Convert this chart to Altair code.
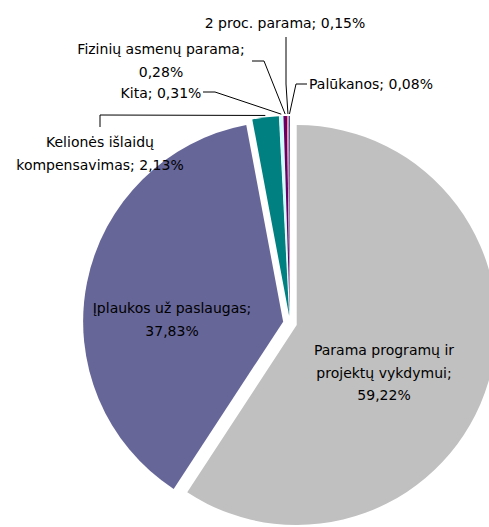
import altair as alt
import pandas as pd
import numpy as np

# ---- data ----
categories = [
    "Parama programų ir projektų vykdymui",
    "Įplaukos už paslaugas",
    "Kelionės išlaidų kompensavimas",
    "Kita",
    "Fizinių asmenų parama",
    "2 proc. parama",
    "Palūkanos",
]
values = [59.22, 37.83, 2.13, 0.31, 0.28, 0.15, 0.08]
colors = ["#C0C0C0", "#666699", "#008080", "#CCFFFF", "#660066", "#FF8080", "#0066CC"]

# ---- layout (positions / styles) ----
W, H = 489, 527
CX, CY, R, EXPLODE = 290, 323, 200, 7
FONT = "DejaVu Sans"
FS = 14
LH = 22.5

# how each label is wrapped
label_templates = [
    "Parama programų ir\nprojektų vykdymui;\n{p}",
    "Įplaukos už paslaugas;\n{p}",
    "Kelionės išlaidų\nkompensavimas; {p}",
    "Kita; {p}",
    "Fizinių asmenų parama;\n{p}",
    "2 proc. parama; {p}",
    "Palūkanos; {p}",
]
# first-line position (x, y) and alignment
label_pos = [(384, 351, "center"), (172, 309, "center"), (100, 143, "center"),
             (161, 94, "center"), (161, 50, "center"), (285, 24, "center"),
             (309, 85, "left")]
# leader line waypoints (from label towards the slice); None = no leader
leader_pts = [None, None,
              [(100, 127), (100, 115)],
              [(203, 92), (215, 92)],
              [(252, 61), (264, 61)],
              [(286, 37), (286, 84)],
              [(307, 84), (296, 84)]]

total = sum(values)
df = pd.DataFrame({"cat": categories, "value": values, "color": colors,
                   "ord": list(range(len(values)))})
df["label"] = [t.format(p=f"{v:.2f}".replace(".", ",") + "%")
               for t, v in zip(label_templates, values)]

base = alt.Chart(df).transform_window(
    cum="sum(value)", sort=[alt.SortField("ord")], frame=[None, 0]
).transform_calculate(
    t0=f"(datum.cum - datum.value) / {total} * 2 * PI",
    t1=f"datum.cum / {total} * 2 * PI",
).transform_calculate(
    mid="(datum.t0 + datum.t1) / 2"
).transform_calculate(
    px=f"{CX} + {EXPLODE} * sin(datum.mid)",
    py=f"{CY} - {EXPLODE} * cos(datum.mid)",
)

pie = base.mark_arc(outerRadius=R).encode(
    theta=alt.Theta("t0:Q", scale=None),
    theta2="t1:Q",
    x=alt.X("px:Q", scale=None),
    y=alt.Y("py:Q", scale=None),
    color=alt.Color("color:N", scale=None),
)

# label table
lab = df[["label"]].copy()
lab["lx"] = [p[0] for p in label_pos]
lab["ly"] = [p[1] for p in label_pos]
lab["align"] = [p[2] for p in label_pos]

def text_layer(sub, align):
    return alt.Chart(sub).mark_text(
        font=FONT, fontSize=FS, lineBreak="\n", lineHeight=LH, align=align,
        baseline="middle", color="#000000"
    ).encode(x=alt.X("lx:Q", scale=None), y=alt.Y("ly:Q", scale=None), text="label:N")

text_c = text_layer(lab[lab["align"] == "center"], "center")
text_l = text_layer(lab[lab["align"] == "left"], "left")

# leader lines: waypoints then the slice's outer edge at its mid-angle
rows = []
cum = 0.0
for i, v in enumerate(values):
    mid = (cum + v / 2) / total * 2 * np.pi
    cum += v
    if leader_pts[i] is None:
        continue
    ex = CX + EXPLODE * np.sin(mid) + (R + 2) * np.sin(mid)
    ey = CY - EXPLODE * np.cos(mid) - (R + 2) * np.cos(mid)
    pts = leader_pts[i] + [(ex, ey)]
    for k, (x, y) in enumerate(pts):
        rows.append({"id": i, "k": k, "x": x, "y": y})
lead = pd.DataFrame(rows)
leaders = alt.Chart(lead).mark_line(color="#000000", strokeWidth=1).encode(
    x=alt.X("x:Q", scale=None), y=alt.Y("y:Q", scale=None),
    detail="id:N", order="k:Q")

chart = alt.layer(pie, leaders, text_c, text_l).properties(
    width=W, height=H, padding=0, autosize=alt.AutoSizeParams(type="none"),
    background="#FFFFFF"
).configure_view(stroke=None)

chart.save("out.html", embed_options={"renderer": "svg", "actions": False})
